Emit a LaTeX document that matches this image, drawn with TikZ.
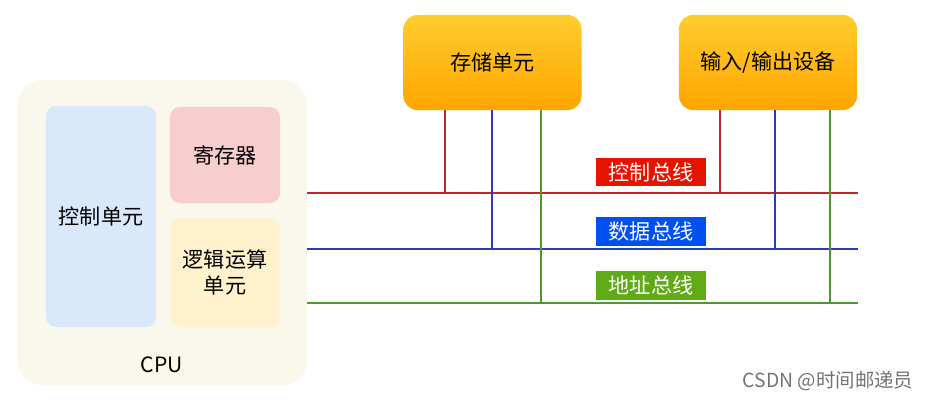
\documentclass[tikz,border=0pt]{standalone}
\usepackage{fontspec}
\setmainfont{Noto Sans CJK SC}
\usepackage{xcolor}
\usetikzlibrary{positioning}

\definecolor{cpubg}{HTML}{FAF7EC}
\definecolor{ctrlbg}{HTML}{DAE8FC}
\definecolor{regbg}{HTML}{F8CECC}
\definecolor{alubg}{HTML}{FFF2CC}
\definecolor{devtop}{HTML}{FFCD2E}
\definecolor{devbot}{HTML}{FFA500}
\definecolor{ctrlline}{HTML}{C8232C}
\definecolor{dataline}{HTML}{2A3CBE}
\definecolor{addrline}{HTML}{4C9A2A}
\definecolor{ctrltag}{HTML}{E51400}
\definecolor{datatag}{HTML}{0050EF}
\definecolor{addrtag}{HTML}{60A917}

\tikzset{
    txt/.style={font=\fontsize{15}{18}\selectfont},
    part/.style={txt, rounded corners=0.25cm, minimum width=2.75cm, align=center},
    device/.style={txt, rounded corners=0.35cm, top color=devtop, bottom color=devbot,
        minimum width=4.45cm, minimum height=2.375cm},
    tag/.style={txt, text=white, minimum width=2.75cm, minimum height=0.7cm, inner sep=0pt},
    bus/.style={line width=1.3pt},
}

\begin{document}
\begin{tikzpicture}[x=0.025cm, y=-0.025cm]
    \useasboundingbox (0,0) rectangle (930,400);

    % CPU
    \node[fill=cpubg, rounded corners=0.6cm, minimum width=7.225cm, minimum height=7.625cm] at (162.5, 232.5) (cpu) {};
    \node[part, fill=ctrlbg, minimum height=5.525cm] at (101, 216.5) (ctrl) {控制单元};
    \node[part, fill=regbg, minimum height=2.4cm] at (225, 155) (reg) {寄存器};
    \node[part, fill=alubg, minimum height=2.725cm] at (225, 272.5) (alu) {逻辑运算\\单元};
    \node[txt] at (162, 365) (cpuname) {CPU};

    % devices
    \node[device] at (492.5, 62.5) (mem) {存储单元};
    \node[device] at (768, 62.5) (io) {输入/输出设备};

    % buses
    \coordinate (cbus) at (858, 193);
    \coordinate (dbus) at (858, 249);
    \coordinate (abus) at (858, 303);

    \coordinate (memc) at (445, 193);
    \coordinate (memd) at (492, 249);
    \coordinate (mema) at (541, 303);
    \coordinate (ioc) at (720, 193);
    \coordinate (iod) at (775, 249);
    \coordinate (ioa) at (830, 303);

    \draw [bus, ctrlline] (cpu.east |- cbus) -- (cbus);
    \draw [bus, dataline] (cpu.east |- dbus) -- (dbus);
    \draw [bus, addrline] (cpu.east |- abus) -- (abus);

    \draw [bus, ctrlline] (memc |- mem.south) -- (memc);
    \draw [bus, dataline] (memd |- mem.south) -- (memd);
    \draw [bus, addrline] (mema |- mem.south) -- (mema);
    \draw [bus, ctrlline] (ioc |- io.south) -- (ioc);
    \draw [bus, dataline] (iod |- io.south) -- (iod);
    \draw [bus, addrline] (ioa |- io.south) -- (ioa);

    % bus names
    \node[tag, fill=ctrltag] at (651, 172) (ctag) {控制总线};
    \node[tag, fill=datatag] at (651, 231.5) (dtag) {数据总线};
    \node[tag, fill=addrtag] at (651, 285.5) (atag) {地址总线};

    \node[font=\fontsize{13.8}{16}\selectfont, text=black!55] at (828, 381) (mark) {CSDN @时间邮递员};
\end{tikzpicture}
\end{document}
